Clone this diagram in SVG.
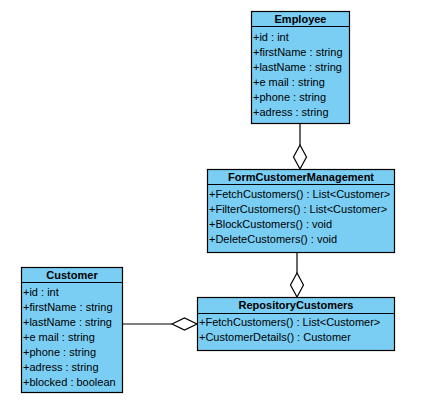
<svg xmlns="http://www.w3.org/2000/svg" width="430" height="412" viewBox="0 0 430 412">
<style>
.box{fill:#7ACEF4;stroke:#000;stroke-width:1.2}
.sep{stroke:#000;stroke-width:1.2}
.t{font-family:"Liberation Sans",Arial,sans-serif;font-size:11px;fill:#000}
.h{font-family:"Liberation Sans",Arial,sans-serif;font-size:11px;font-weight:bold;fill:#000;text-anchor:middle}
.ln{stroke:#000;stroke-width:1.2;fill:none}
.dia{fill:#fff;stroke:#000;stroke-width:1.2}
</style>
<rect width="430" height="412" fill="#fff"/>
<g id="connectors">
<line class="ln" x1="300" y1="124" x2="300" y2="145"/>
<polygon class="dia" points="300,145 306.5,157 300,169 293.5,157"/>
<line class="ln" x1="297" y1="252" x2="297" y2="273"/>
<polygon class="dia" points="297,273 303.5,285 297,297 290.5,285"/>
<line class="ln" x1="122" y1="324" x2="172" y2="324"/>
<polygon class="dia" points="172,324 184.5,318 197,324 184.5,330"/>
</g>
<g id="Employee">
<rect class="box" x="251.5" y="11.5" width="98" height="112"/>
<line class="sep" x1="251.5" y1="26.5" x2="349.5" y2="26.5"/>
<text class="h" x="300.5" y="23">Employee</text>
<text class="t" x="253" y="40.5">+id : int</text>
<text class="t" x="253" y="55.5">+firstName : string</text>
<text class="t" x="253" y="70.5">+lastName : string</text>
<text class="t" x="253" y="85.5">+e mail : string</text>
<text class="t" x="253" y="100.5">+phone : string</text>
<text class="t" x="253" y="115.5">+adress : string</text>
</g>
<g id="FormCustomerManagement">
<rect class="box" x="207.5" y="169.5" width="187" height="83"/>
<line class="sep" x1="207.5" y1="184.5" x2="394.5" y2="184.5"/>
<text class="h" x="301" y="181">FormCustomerManagement</text>
<text class="t" x="209" y="198">+FetchCustomers() : List&lt;Customer&gt;</text>
<text class="t" x="209" y="213">+FilterCustomers() : List&lt;Customer&gt;</text>
<text class="t" x="209" y="228">+BlockCustomers() : void</text>
<text class="t" x="209" y="243">+DeleteCustomers() : void</text>
</g>
<g id="RepositoryCustomers">
<rect class="box" x="197.5" y="297.5" width="197" height="53"/>
<line class="sep" x1="197.5" y1="313.5" x2="394.5" y2="313.5"/>
<text class="h" x="296" y="309">RepositoryCustomers</text>
<text class="t" x="199" y="326">+FetchCustomers() : List&lt;Customer&gt;</text>
<text class="t" x="199" y="341">+CustomerDetails() : Customer</text>
</g>
<g id="Customer">
<rect class="box" x="21.5" y="267.5" width="101" height="125"/>
<line class="sep" x1="21.5" y1="282.5" x2="122.5" y2="282.5"/>
<text class="h" x="72" y="279">Customer</text>
<text class="t" x="23" y="296">+id : int</text>
<text class="t" x="23" y="311">+firstName : string</text>
<text class="t" x="23" y="326">+lastName : string</text>
<text class="t" x="23" y="341">+e mail : string</text>
<text class="t" x="23" y="356">+phone : string</text>
<text class="t" x="23" y="371">+adress : string</text>
<text class="t" x="23" y="386">+blocked : boolean</text>
</g>
</svg>
